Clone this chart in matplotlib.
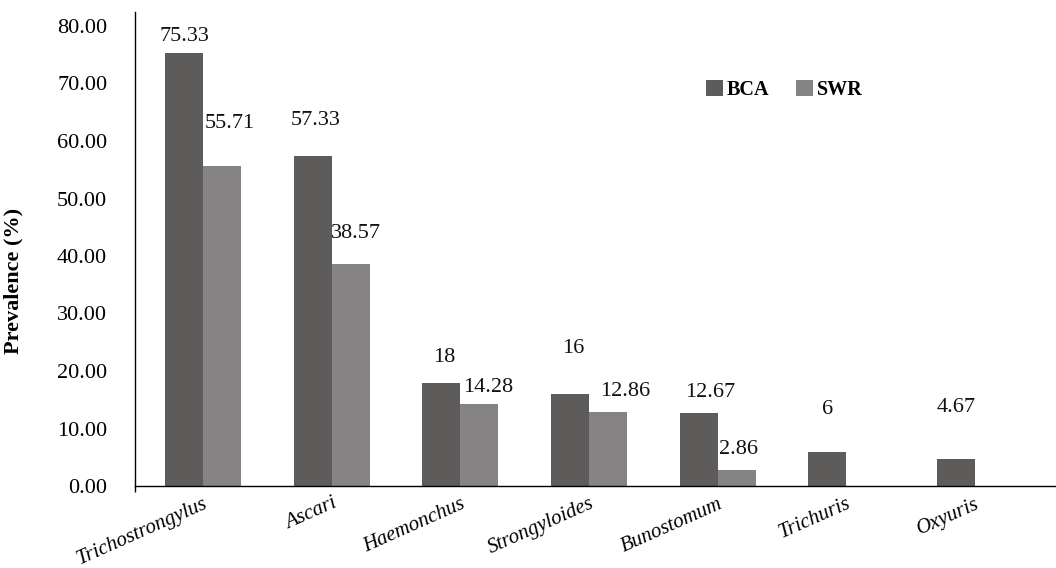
import matplotlib
matplotlib.use("Agg")
import matplotlib.pyplot as plt
import numpy as np

# donnees
categories = ["Trichostrongylus", "Ascari", "Haemonchus", "Strongyloides",
              "Bunostomum", "Trichuris", "Oxyuris"]
bca = [75.33, 57.33, 18, 16, 12.67, 6, 4.67]
swr = [55.71, 38.57, 14.28, 12.86, 2.86, None, None]
bca_labels = ["75.33", "57.33", "18", "16", "12.67", "6", "4.67"]
swr_labels = ["55.71", "38.57", "14.28", "12.86", "2.86", "", ""]
yticks = [0, 10, 20, 30, 40, 50, 60, 70, 80]

# decalage des etiquettes (pixels : dx, dy au dessus de la barre)
bca_off = [(0, 7), (3, 26), (3, 16), (3, 36), (11, 11), (0, 32), (0, 42)]
swr_off = [(8, 33), (5, 21), (9, 7), (17, 11), (2, 11), (0, 0), (0, 0)]

c_bca = "#5e5c5a"
c_swr = "#858384"
serif = ["Liberation Serif", "DejaVu Serif"]
plt.rcParams['font.family'] = serif

fig = plt.figure(figsize=(10.56, 5.68), dpi=100)
ax = fig.add_axes([135/1056, 82/568, 921/1056, 474/568])

x = np.arange(len(categories))
w = 0.295
bca_v = np.array(bca, dtype=float)
swr_v = np.array([np.nan if v is None else v for v in swr], dtype=float)
b1 = ax.bar(x - w/2, bca_v, w, color=c_bca, label="BCA")
b2 = ax.bar(x + w/2, np.nan_to_num(swr_v), w, color=c_swr, label="SWR")

px = 0.72  # points par pixel
for i in range(len(categories)):
    ax.annotate(bca_labels[i], (x[i] - w/2, bca_v[i]),
                xytext=(bca_off[i][0]*px, bca_off[i][1]*px), textcoords="offset points",
                ha="center", va="bottom", fontsize=16, color="#111111")
    if swr_labels[i]:
        ax.annotate(swr_labels[i], (x[i] + w/2, swr_v[i]),
                    xytext=(swr_off[i][0]*px, swr_off[i][1]*px), textcoords="offset points",
                    ha="center", va="bottom", fontsize=16, color="#111111")

xmin = -0.53
ax.set_xlim(xmin, 6.63)
ax.set_ylim(0, 80*474/460)
ax.set_yticks(yticks)
ax.set_yticklabels(["%.2f" % v for v in yticks], fontsize=16)
ax.tick_params(axis="y", length=0, pad=20)
ax.set_yticks([0], minor=True)
ax.tick_params(axis="y", which="minor", length=7, width=1, direction="out")
ax.set_xticks(x)
ax.set_xticklabels(categories, rotation=24, ha="right", rotation_mode="anchor",
                   fontsize=15, style="italic")
ax.tick_params(axis="x", length=0, pad=6)
ax.set_xticks([xmin], minor=True)
ax.tick_params(axis="x", which="minor", length=4.5, width=1, direction="out")

for s in ["top", "right"]:
    ax.spines[s].set_visible(False)
ax.spines["left"].set_linewidth(1)
ax.spines["bottom"].set_linewidth(1)

ax.set_ylabel("Prevalence (%)", fontsize=16, fontweight="bold")
ax.yaxis.set_label_coords(-0.1216, 0.4325)

leg = ax.legend(loc="center", bbox_to_anchor=(0.705, 0.835), ncol=2, frameon=False,
                handlelength=0.85, handleheight=0.85, handletextpad=0.2,
                columnspacing=1.3, prop={"family": serif, "weight": "bold", "size": 14.5})

fig.savefig("out.png", dpi=100)
